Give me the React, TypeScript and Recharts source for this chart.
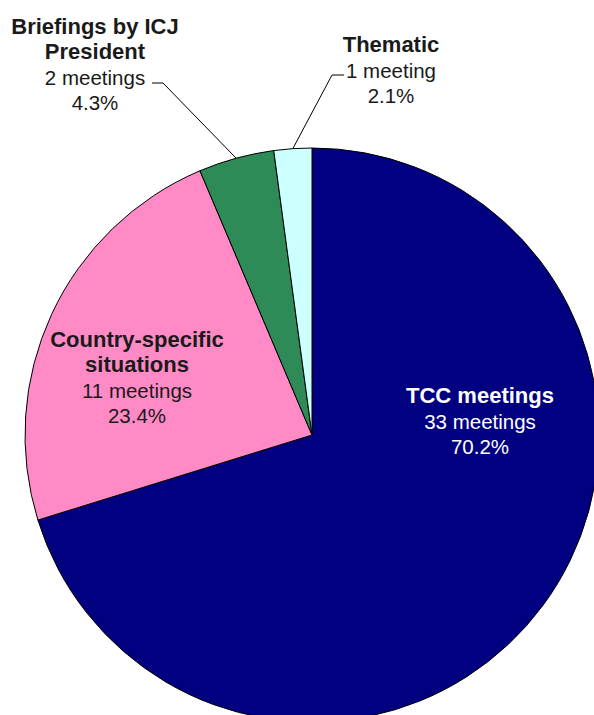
import { PieChart, Pie, Cell } from "recharts"

const categories = ["TCC meetings", "Country-specific situations", "Briefings by ICJ President", "Thematic"]
const titleLines = [["TCC meetings"], ["Country-specific", "situations"], ["Briefings by ICJ", "President"], ["Thematic"]]
const meetings = [33, 11, 2, 1]
const colors = ["#000080", "#ff8ac6", "#2e8b57", "#ccffff"]

const total = meetings.reduce((a, b) => a + b, 0)
const data = categories.map((name, i) => ({ name, value: meetings[i] }))

// label placement relative to the pie centre
const labelLayout = [
  { dx: 168, dy: -32, color: "#ffffff" },
  { dx: -175, dy: -88, color: "#1a1a1a" },
  { dx: -217, dy: -401, color: "#1a1a1a", elbow: { dx: -149, dy: -352, end: -160 } },
  { dx: 79, dy: -383, color: "#1a1a1a", elbow: { dx: 20, dy: -360, end: 32 } },
]

const FONT = "Arial, 'Liberation Sans', sans-serif"
const RADIAN = Math.PI / 180

function renderLabel(props: any) {
  const { cx, cy, midAngle, outerRadius, index, value } = props
  const layout = labelLayout[index]
  const x = cx + layout.dx
  const y0 = cy + layout.dy
  const lines = titleLines[index]
  const pct = ((value / total) * 100).toFixed(1) + "%"
  const countText = value + (value === 1 ? " meeting" : " meetings")
  let leader = null
  if (layout.elbow) {
    const ex = cx + outerRadius * Math.cos(-midAngle * RADIAN)
    const ey = cy + outerRadius * Math.sin(-midAngle * RADIAN)
    const bx = cx + layout.elbow.dx
    const by = cy + layout.elbow.dy
    const hx = cx + layout.elbow.end
    leader = <polyline points={`${ex},${ey} ${bx},${by} ${hx},${by}`} fill="none" stroke="#000" strokeWidth={1} />
  }
  return (
    <g key={`lbl-${index}`}>
      {leader}
      <text x={x} y={y0} textAnchor="middle" fill={layout.color} fontFamily={FONT}>
        {lines.map((l, i) => (
          <tspan key={i} x={x} y={y0 + i * 25} fontSize={22} fontWeight="bold">{l}</tspan>
        ))}
        <tspan x={x} y={y0 + lines.length * 25 + 1} fontSize={20.5}>{countText}</tspan>
        <tspan x={x} y={y0 + lines.length * 25 + 26} fontSize={20.5}>{pct}</tspan>
      </text>
    </g>
  )
}

export default function App() {
  return (
    <div style={{ position: "absolute", left: 0, top: 0, width: 594, height: 715, background: "#fff" }}>
      <PieChart width={594} height={715} margin={{ top: 0, right: 0, bottom: 0, left: 0 }}>
        <Pie
          data={data}
          dataKey="value"
          cx={312}
          cy={435}
          outerRadius={287}
          startAngle={90}
          endAngle={-270}
          stroke="#000"
          strokeWidth={1}
          labelLine={false}
          label={renderLabel}
          isAnimationActive={false}
        >
          {data.map((d, i) => (
            <Cell key={d.name} fill={colors[i]} />
          ))}
        </Pie>
      </PieChart>
    </div>
  )
}
